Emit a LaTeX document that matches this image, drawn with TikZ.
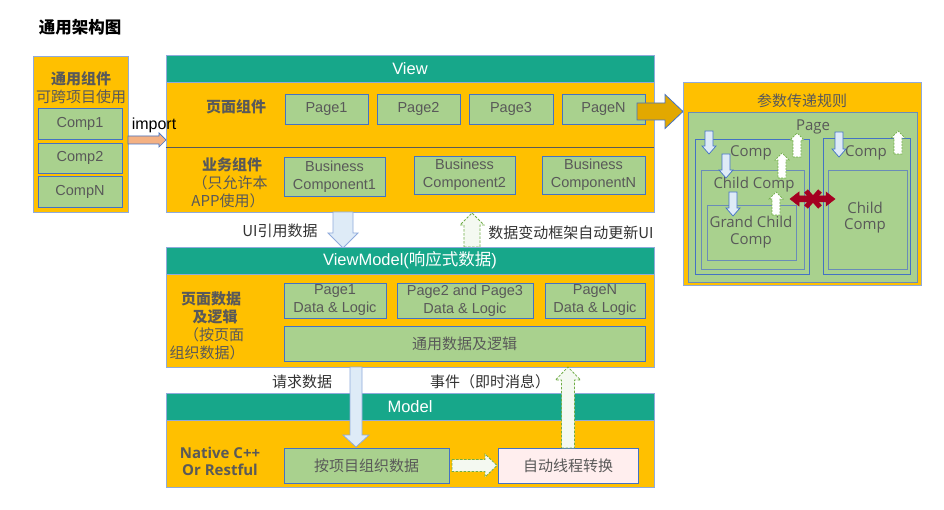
\documentclass[tikz,border=0pt]{standalone}
\usepackage{fontspec}
\setmainfont{Liberation Sans}
\newfontfamily\cjk{Noto Sans CJK SC}
\newfontfamily\osans{Open Sans}
\usetikzlibrary{calc}
\definecolor{org}{HTML}{FFC000}
\definecolor{tealh}{HTML}{17A78A}
\definecolor{grn}{HTML}{A9D18E}
\definecolor{bdr}{HTML}{4472C4}
\definecolor{pbdr}{HTML}{8FAADC}
\definecolor{ibdr}{HTML}{6A8CB8}
\definecolor{txt}{HTML}{595959}
\definecolor{dtxt}{HTML}{333333}
\definecolor{lblue}{HTML}{DEEBF7}
\definecolor{dgreen}{HTML}{70AD47}
\definecolor{upfill}{HTML}{F4F9F1}
\definecolor{salmon}{HTML}{F4B183}
\definecolor{dorg}{HTML}{E2A800}
\definecolor{pinkf}{HTML}{FFEEEE}
\definecolor{dred}{HTML}{A50021}
\newcommand\rbox[7][]{\node[#1, minimum width={#5-#3}, minimum height={#6-#4}, anchor=center] (#2) at ({(#3+#5)/2},{(#4+#6)/2}) {#7};}
\newcommand\darr[7][]{\draw[#1] ({#2-#5},#3) -- ({#2+#5},#3) -- ({#2+#5},{#4-#7}) -- ({#2+#6},{#4-#7}) -- (#2,#4) -- ({#2-#6},{#4-#7}) -- ({#2-#5},{#4-#7}) -- cycle;}
\newcommand\uarr[7][]{\draw[#1] ({#2-#5},#3) -- ({#2+#5},#3) -- ({#2+#5},{#4+#7}) -- ({#2+#6},{#4+#7}) -- (#2,#4) -- ({#2-#6},{#4+#7}) -- ({#2-#5},{#4+#7}) -- cycle;}
\newcommand\rarr[7][]{\draw[#1] (#3,{#2-#5}) -- ({#4-#7},{#2-#5}) -- ({#4-#7},{#2-#6}) -- (#4,#2) -- ({#4-#7},{#2+#6}) -- ({#4-#7},{#2+#5}) -- (#3,{#2+#5}) -- cycle;}
\tikzset{
  panel/.style={draw=pbdr, fill=org, line width=0.8pt, inner sep=0pt},
  hdr/.style={draw=pbdr, fill=tealh, text=white, font=\fontsize{16.5}{19}\selectfont, line width=0.8pt, inner sep=0pt},
  gbox/.style={draw=bdr, fill=grn, text=txt, font=\fontsize{14.5}{18}\selectfont, align=center, line width=0.8pt, inner sep=0pt},
  cbox/.style={gbox, font=\cjk\fontsize{15}{18}\selectfont},
  lab/.style={text=txt, font=\cjk\bfseries\fontsize{15}{18}\selectfont, inner sep=0pt},
  labn/.style={text=txt, font=\cjk\fontsize{15}{18}\selectfont, inner sep=0pt},
  note/.style={text=dtxt, font=\cjk\fontsize{15}{18}\selectfont, inner sep=0pt},
  rp/.style={text=txt, font=\osans\fontsize{15}{18}\selectfont, inner sep=0pt, align=center},
  ibox/.style={draw=ibdr, line width=0.8pt, inner sep=0pt},
  bigdown/.style={fill=lblue, draw=pbdr, line width=0.8pt},
  smdown/.style={fill=lblue, draw=bdr, line width=0.7pt},
  upd/.style={fill=upfill, draw=dgreen, line width=0.8pt, dash pattern=on 2.5pt off 1.5pt},
  smup/.style={fill=white, draw=dgreen, line width=0.7pt, dash pattern=on 2pt off 1.2pt}
}
\begin{document}
\begin{tikzpicture}[x=1pt,y=-1pt]
\useasboundingbox[fill=white] (0,0) rectangle (944,510);
\node[text=black, font=\cjk\bfseries\fontsize{16.5}{20}\selectfont, inner sep=0pt] (title) at (80,27) {通用架构图};

% left panel
\rbox[panel]{lp}{33}{56}{128}{212}{}
\node[lab] (lpt) at (81,79) {通用组件};
\node[labn] (lps) at (81,97) {可跨项目使用};
\rbox[gbox]{c1}{38}{108}{122}{139}{Comp1}
\rbox[gbox]{c2}{38}{143}{122}{173}{Comp2}
\rbox[gbox]{cn}{38}{176}{122}{207}{CompN}

% View
\rbox[panel]{view}{166}{55}{654}{212}{}
\rbox[hdr]{viewh}{166}{55}{654}{82}{View}
\draw[txt, line width=0.8pt] (view.west |- 0,147) -- (view.east |- 0,147);
\node[lab] (pgc) at (236,107) {页面组件};
\rbox[gbox]{p1}{285}{94}{368}{124}{Page1}
\rbox[gbox]{p2}{377}{94}{460}{124}{Page2}
\rbox[gbox]{p3}{469}{94}{553}{124}{Page3}
\rbox[gbox]{pn}{562}{94}{645}{124}{PageN}
\node[lab] (bzc) at (232,165) {业务组件};
\node[labn] (bzc2) at (230,183) {（只允许本};
\node[labn] (bzc3) at (228,201) {APP{\cjk 使用）}};
\rbox[gbox]{b1}{284}{157}{385}{196}{Business\\Component1}
\rbox[gbox]{b2}{414}{156}{515}{194}{Business\\Component2}
\rbox[gbox]{bn}{542}{156}{645}{194}{Business\\ComponentN}

% import arrow
\rarr[fill=salmon, draw=bdr, line width=0.7pt]{140}{128}{166}{4}{7}{7}
\node[text=black, font=\fontsize{16}{19}\selectfont, inner sep=0pt] (imp) at (154,125) {import};

% View -> ViewModel arrows
\darr[bigdown]{343}{212}{248}{10}{15}{15}
\node[note] (uiref) at (280,231) {UI{\cjk 引用数据}};
\uarr[upd]{472}{247}{213}{8}{12}{12}
\node[note] (autoup) at (571,233) {数据变动框架自动更新UI};

% ViewModel
\rbox[panel]{vm}{166}{247}{654}{367}{}
\rbox[hdr]{vmh}{166}{247}{654}{274}{ViewModel({\cjk 响应式数据})}
\node[lab] (vl1) at (211,299) {页面数据};
\node[lab] (vl2) at (215,317) {及逻辑};
\node[labn] (vl3) at (214,335) {（按页面};
\node[labn] (vl4) at (207,353) {组织数据）};
\rbox[gbox]{d1}{284}{283}{386}{318}{Page1\\Data \& Logic}
\rbox[gbox]{d2}{397}{283}{533}{318}{Page2 and Page3\\Data \& Logic}
\rbox[gbox]{dn}{545}{283}{645}{318}{PageN\\Data \& Logic}
\rbox[cbox]{dc}{284}{326}{645}{361}{通用数据及逻辑}

% ViewModel <-> Model
\node[note] (req) at (302,382) {请求数据};
\node[note] (evt) at (490,382) {事件（即时消息）};

% Model
\rbox[panel]{md}{166}{393}{654}{487}{}
\rbox[hdr]{mdh}{166}{393}{654}{420}{Model}
\node[text=txt, font=\osans\bfseries\fontsize{15}{18}\selectfont, inner sep=0pt] (nat1) at (220,453) {Native C++};
\node[text=txt, font=\osans\bfseries\fontsize{15}{18}\selectfont, inner sep=0pt] (nat2) at (220,470) {Or Restful};
\rbox[cbox]{org1}{284}{448}{449}{483}{按项目组织数据}
\rbox[cbox, fill=pinkf]{thr}{498}{448}{638}{483}{自动线程转换}
\rarr[upd]{465.5}{452}{497}{6}{11.5}{12}
\darr[bigdown]{356}{367}{447}{6}{13}{12}
\uarr[upd]{568}{448}{367}{6.5}{12.5}{13}

% parameter rules panel
\rarr[fill=dorg, draw=bdr, line width=0.8pt]{111.5}{637}{683}{8.5}{17}{18}
\rbox[panel]{rule}{683}{82}{921}{285}{}
\node[labn] (rulet) at (802,101) {参数传递规则};
\rbox[ibox, fill=grn]{pg}{688}{112}{917}{282}{}
\node[rp] (pgt) at (813,127) {Page};
\rbox[ibox, draw=bdr]{lc}{695}{139}{809}{274}{}
\node[rp] (lct) at (751,153) {Comp};
\rbox[ibox]{lcc}{701}{170}{804}{269}{}
\node[rp] (lcct) at (754,185) {Child Comp};
\rbox[ibox]{gc}{707}{205}{796}{260}{}
\node[rp] (gct) at (751,232.5) {Grand Child\\[-1pt]Comp};
\rbox[ibox, draw=bdr]{rc}{823}{138}{910}{274}{}
\node[rp] (rct) at (866,153) {Comp};
\rbox[ibox]{rcc}{828}{170}{907}{269}{}
\node[rp] (rcct) at (865,218) {Child\\[-2pt]Comp};
\darr[smdown]{709}{131}{154}{4}{7}{8}
\darr[smdown]{726}{154}{178}{4}{7}{8}
\darr[smdown]{733}{192}{216}{4}{7}{8}
\darr[smdown]{839}{132}{157}{4}{7}{8}
\uarr[smup]{797}{157}{133}{4}{7}{7}
\uarr[smup]{782}{178}{153}{4}{7}{7}
\uarr[smup]{776}{215}{192}{4}{7}{7}
\uarr[smup]{898}{154}{131}{4}{7}{7}
\draw[fill=dred, draw=dred, line width=0.5pt] (790,199) -- (799,192) -- (799,196) -- (826,196) -- (826,192) -- (835,199) -- (826,206) -- (826,202) -- (799,202) -- (799,206) -- cycle;
\draw[dred, line width=5pt] (806,191) -- (820,207) (806,207) -- (820,191);
\end{tikzpicture}
\end{document}
